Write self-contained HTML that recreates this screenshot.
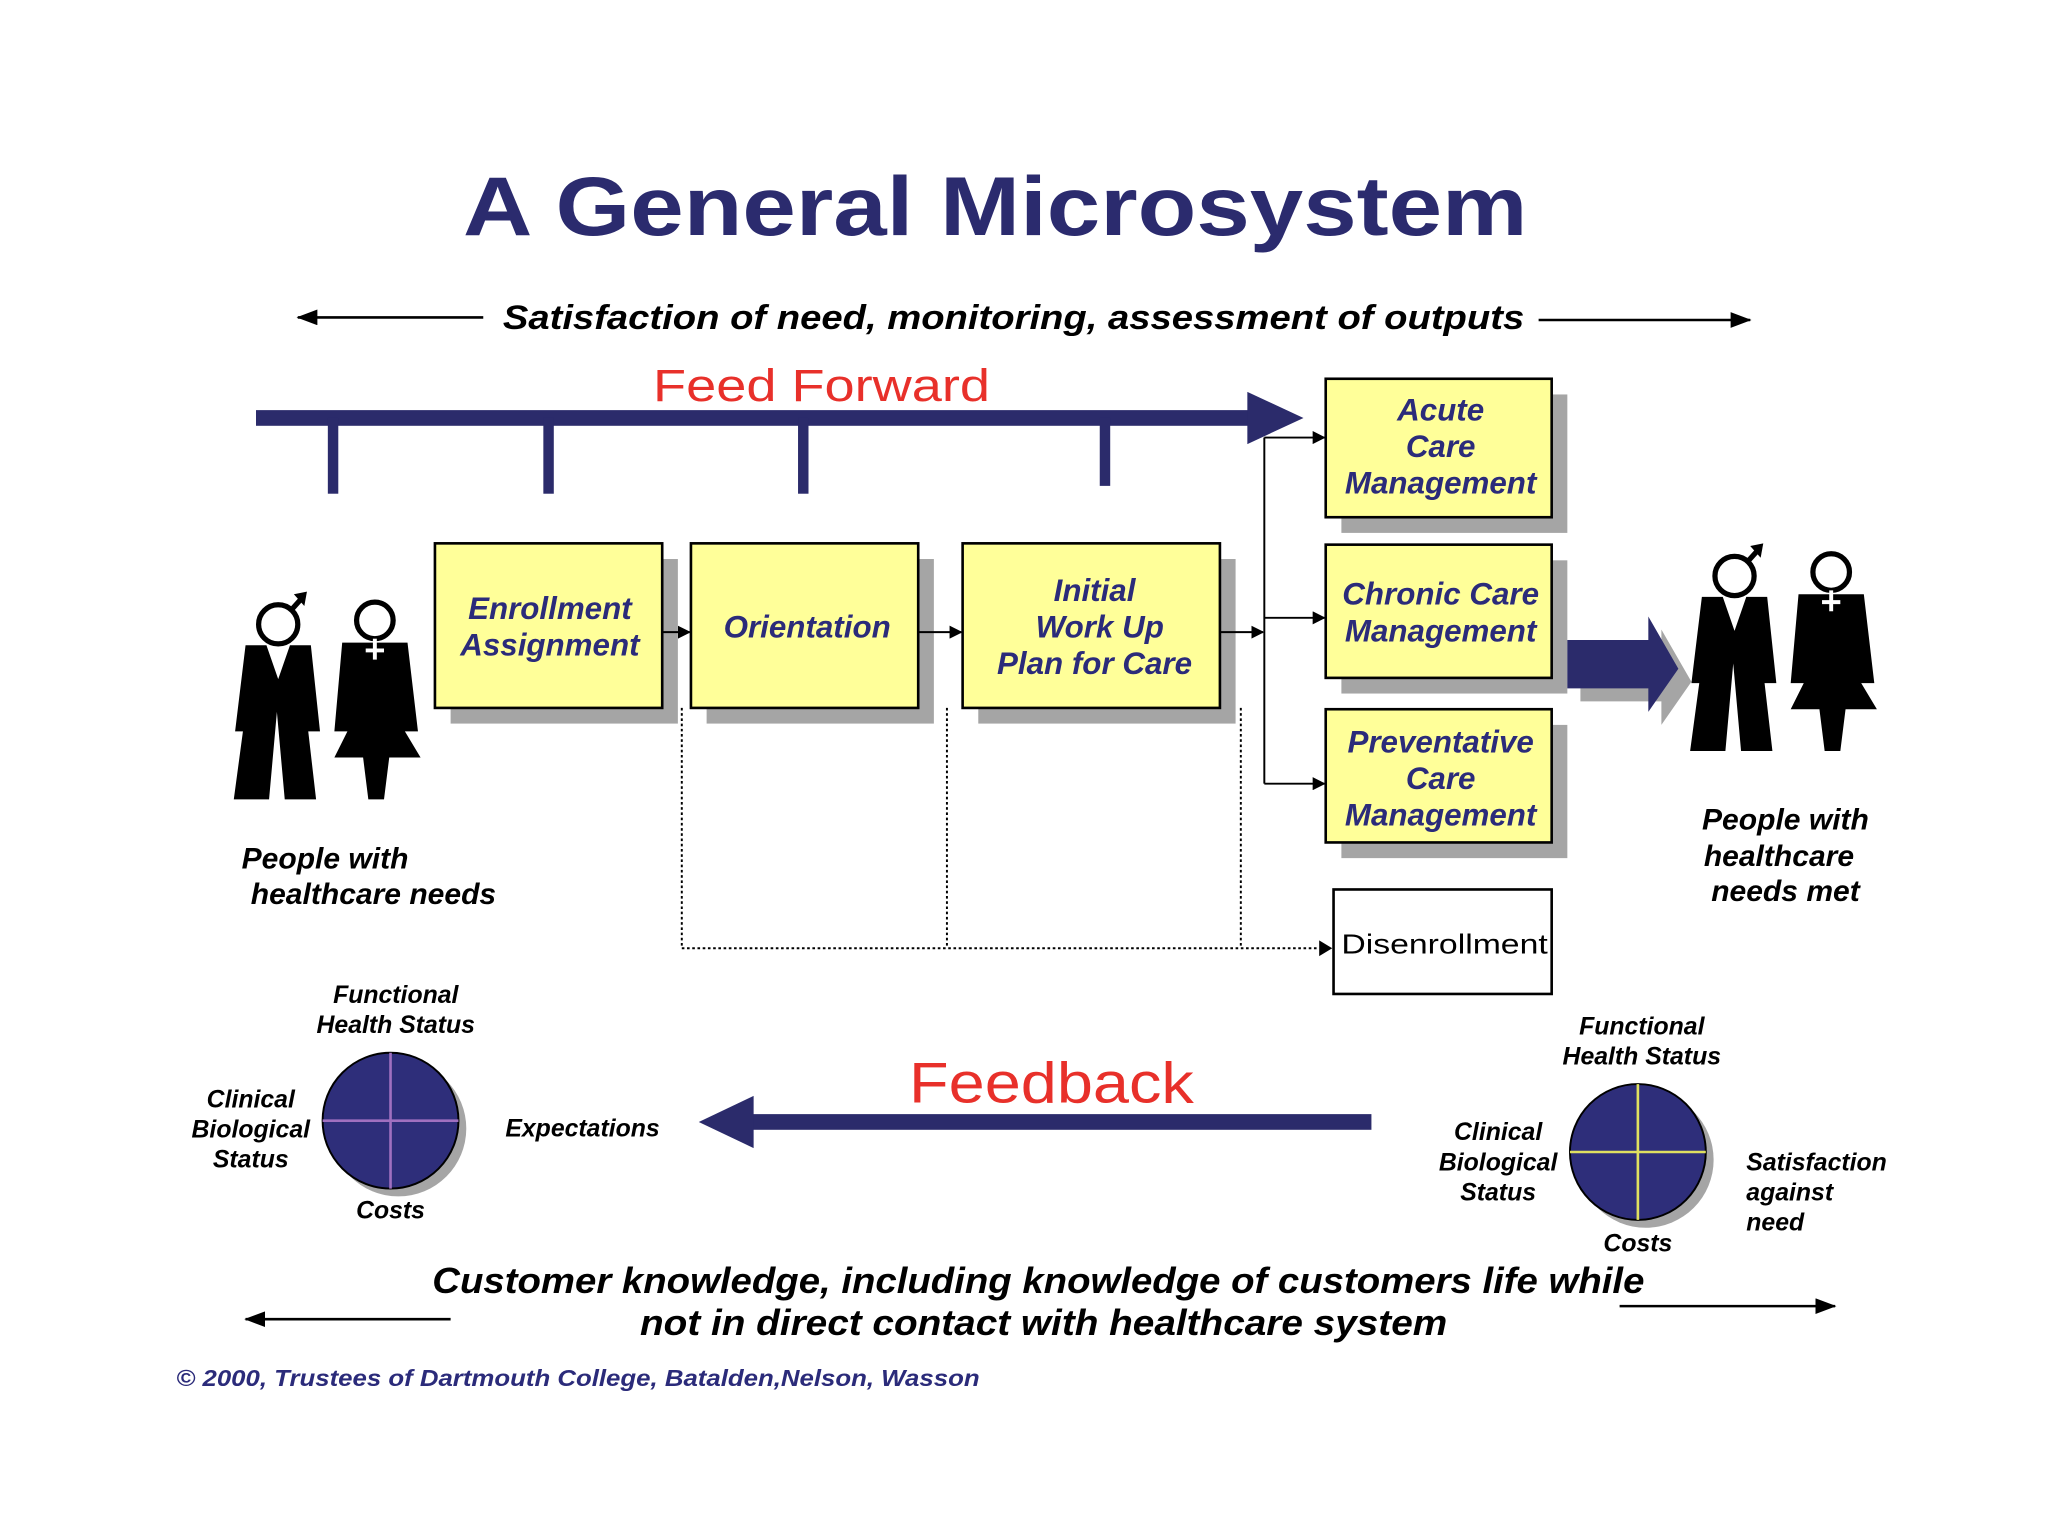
<!DOCTYPE html>
<html><head><meta charset="utf-8"><style>
html,body{margin:0;padding:0;background:#fff;}
svg{display:block;}
text{font-family:"Liberation Sans",sans-serif;}
.bx{font-style:italic;font-weight:bold;fill:#2b2b7a;font-size:24px;text-anchor:middle;}
.bl{font-style:italic;font-weight:bold;fill:#000;}
.sm{font-style:italic;font-weight:bold;fill:#000;font-size:19px;text-anchor:middle;}
</style></head><body>
<svg width="2048" height="1536" viewBox="0 0 1568 1176" xmlns="http://www.w3.org/2000/svg">
<defs>
<marker id="ah" markerWidth="10" markerHeight="10" refX="9" refY="5" orient="auto" markerUnits="userSpaceOnUse"><path d="M0,0 L10,5 L0,10 z" fill="#000"/></marker>
<marker id="ah2" markerWidth="16" markerHeight="12" refX="15" refY="6" orient="auto" markerUnits="userSpaceOnUse"><path d="M0,0 L16,6 L0,12 z" fill="#000"/></marker>
<g id="people">
  <circle cx="213" cy="478" r="15" fill="#fff" stroke="#000" stroke-width="4"/>
  <line x1="223" y1="467" x2="232" y2="457" stroke="#000" stroke-width="4"/>
  <path d="M225,455 L235,453 L233,464 z" fill="#000"/>
  <polygon points="188,494 204,494 213,520 222,494 238,494 245,560 236,560 242,612 218,612 212,545 206,612 179,612 186,560 180,560"/>
  <circle cx="287" cy="475" r="14" fill="#fff" stroke="#000" stroke-width="4"/>
  <polygon points="262,492 312,492 320,560 310,560 322,580 298,580 294,612 282,612 278,580 256,580 266,560 256,560"/>
  <line x1="287" y1="489" x2="287" y2="505" stroke="#fff" stroke-width="3"/>
  <line x1="280" y1="498" x2="294" y2="498" stroke="#fff" stroke-width="3"/>
</g>
</defs>

<text x="762" y="180" font-size="64" font-weight="bold" fill="#2b2b6e" text-anchor="middle" textLength="815" lengthAdjust="spacingAndGlyphs">A General Microsystem</text>

<line x1="370" y1="243" x2="228" y2="243" stroke="#000" stroke-width="2" marker-end="url(#ah2)"/>
<line x1="1178" y1="245" x2="1340" y2="245" stroke="#000" stroke-width="2" marker-end="url(#ah2)"/>
<text class="bl" x="385" y="252" font-size="26" textLength="782" lengthAdjust="spacingAndGlyphs">Satisfaction of need, monitoring, assessment of outputs</text>

<text x="629" y="307" font-size="35" fill="#e8302a" text-anchor="middle" textLength="258" lengthAdjust="spacingAndGlyphs">Feed Forward</text>
<rect x="196" y="314" width="764" height="12" fill="#2b2b6b"/>
<polygon points="955,300 998,320 955,340" fill="#2b2b6b"/>
<rect x="251" y="320" width="8" height="58" fill="#2b2b6b"/>
<rect x="416" y="320" width="8" height="58" fill="#2b2b6b"/>
<rect x="611" y="320" width="8" height="58" fill="#2b2b6b"/>
<rect x="842" y="320" width="8" height="52" fill="#2b2b6b"/>

<g fill="#a5a5a5">
<rect x="345" y="428" width="174" height="126"/>
<rect x="541" y="428" width="174" height="126"/>
<rect x="749" y="428" width="197" height="126"/>
<rect x="1027" y="302" width="173" height="106"/>
<rect x="1027" y="429" width="173" height="102"/>
<rect x="1027" y="555" width="173" height="102"/>
</g>
<g fill="#ffff99" stroke="#000" stroke-width="2">
<rect x="333" y="416" width="174" height="126"/>
<rect x="529" y="416" width="174" height="126"/>
<rect x="737" y="416" width="197" height="126"/>
<rect x="1015" y="290" width="173" height="106"/>
<rect x="1015" y="417" width="173" height="102"/>
<rect x="1015" y="543" width="173" height="102"/>
</g>
<rect x="1021" y="681" width="167" height="80" fill="#fff" stroke="#000" stroke-width="2"/>

<text class="bx" x="421" y="474">Enrollment</text>
<text class="bx" x="421" y="502">Assignment</text>
<text class="bx" x="618" y="488">Orientation</text>
<text class="bx" x="838" y="460">Initial</text>
<text class="bx" x="842" y="488">Work Up</text>
<text class="bx" x="838" y="516">Plan for Care</text>
<text class="bx" x="1103" y="322">Acute</text>
<text class="bx" x="1103" y="350">Care</text>
<text class="bx" x="1103" y="378">Management</text>
<text class="bx" x="1103" y="463">Chronic Care</text>
<text class="bx" x="1103" y="491">Management</text>
<text class="bx" x="1103" y="576">Preventative</text>
<text class="bx" x="1103" y="604">Care</text>
<text class="bx" x="1103" y="632">Management</text>
<text x="1027" y="730" font-size="21" fill="#000" textLength="158" lengthAdjust="spacingAndGlyphs">Disenrollment</text>

<g stroke="#000" stroke-width="1.5" fill="none">
<line x1="507" y1="484" x2="528" y2="484" marker-end="url(#ah)"/>
<line x1="703" y1="484" x2="736" y2="484" marker-end="url(#ah)"/>
<line x1="934" y1="484" x2="967" y2="484" marker-end="url(#ah)"/>
<line x1="968" y1="335" x2="968" y2="600"/>
<line x1="968" y1="335" x2="1014" y2="335" marker-end="url(#ah)"/>
<line x1="968" y1="473" x2="1014" y2="473" marker-end="url(#ah)"/>
<line x1="968" y1="600" x2="1014" y2="600" marker-end="url(#ah)"/>
<g stroke-dasharray="2,2">
<line x1="522" y1="542" x2="522" y2="726"/>
<line x1="725" y1="542" x2="725" y2="726"/>
<line x1="950" y1="542" x2="950" y2="726"/>
<line x1="522" y1="726" x2="1010" y2="726"/>
</g>
</g>
<path d="M1010,720 L1020,726 L1010,732 z" fill="#000"/>

<polygon points="1210,500 1272,500 1272,482 1295,522 1272,555 1272,537 1210,537" fill="#a5a5a5"/>
<polygon points="1200,490 1262,490 1262,472 1285,512 1262,545 1262,527 1200,527" fill="#2b2b6b"/>

<use href="#people"/>
<use href="#people" transform="translate(1115,-37)"/>

<text class="bl" x="185" y="665" font-size="23">People with</text>
<text class="bl" x="192" y="692" font-size="23">healthcare needs</text>
<text class="bl" x="1367" y="635" font-size="23" text-anchor="middle">People with</text>
<text class="bl" x="1362" y="663" font-size="23" text-anchor="middle">healthcare</text>
<text class="bl" x="1367" y="690" font-size="23" text-anchor="middle">needs met</text>

<circle cx="305" cy="864" r="52" fill="#a5a5a5"/>
<circle cx="299" cy="858" r="52" fill="#2e2e7a" stroke="#000" stroke-width="1.5"/>
<line x1="299" y1="806" x2="299" y2="910" stroke="#a070c0" stroke-width="2"/>
<line x1="247" y1="858" x2="351" y2="858" stroke="#a070c0" stroke-width="2"/>
<text class="sm" x="303" y="768">Functional</text>
<text class="sm" x="303" y="791">Health Status</text>
<text class="sm" x="192" y="848">Clinical</text>
<text class="sm" x="192" y="871">Biological</text>
<text class="sm" x="192" y="894">Status</text>
<text class="sm" x="299" y="933">Costs</text>
<text class="sm" x="446" y="870">Expectations</text>

<circle cx="1260" cy="888" r="52" fill="#a5a5a5"/>
<circle cx="1254" cy="882" r="52" fill="#2e2e7a" stroke="#000" stroke-width="1.5"/>
<line x1="1254" y1="830" x2="1254" y2="934" stroke="#e0e060" stroke-width="2"/>
<line x1="1202" y1="882" x2="1306" y2="882" stroke="#e0e060" stroke-width="2"/>
<text class="sm" x="1257" y="792">Functional</text>
<text class="sm" x="1257" y="815">Health Status</text>
<text class="sm" x="1147" y="873">Clinical</text>
<text class="sm" x="1147" y="896">Biological</text>
<text class="sm" x="1147" y="919">Status</text>
<text class="sm" x="1254" y="958">Costs</text>
<text class="sm" x="1337" y="896" style="text-anchor:start">Satisfaction</text>
<text class="sm" x="1337" y="919" style="text-anchor:start">against</text>
<text class="sm" x="1337" y="942" style="text-anchor:start">need</text>

<text x="805" y="844" font-size="44" fill="#e8302a" text-anchor="middle" textLength="218" lengthAdjust="spacingAndGlyphs">Feedback</text>
<rect x="570" y="853" width="480" height="12" fill="#2b2b6b"/>
<polygon points="535,859 577,839 577,879" fill="#2b2b6b"/>

<text class="bl" x="795" y="990" font-size="28" text-anchor="middle" textLength="928" lengthAdjust="spacingAndGlyphs">Customer knowledge, including knowledge of customers life while</text>
<text class="bl" x="799" y="1022" font-size="28" text-anchor="middle" textLength="618" lengthAdjust="spacingAndGlyphs">not in direct contact with healthcare system</text>
<line x1="345" y1="1010" x2="188" y2="1010" stroke="#000" stroke-width="2" marker-end="url(#ah2)"/>
<line x1="1240" y1="1000" x2="1405" y2="1000" stroke="#000" stroke-width="2" marker-end="url(#ah2)"/>

<text x="135" y="1061" font-size="18" font-style="italic" font-weight="bold" fill="#2b2b7a" textLength="615" lengthAdjust="spacingAndGlyphs">© 2000, Trustees of Dartmouth College, Batalden,Nelson, Wasson</text>
</svg>
</body></html>
